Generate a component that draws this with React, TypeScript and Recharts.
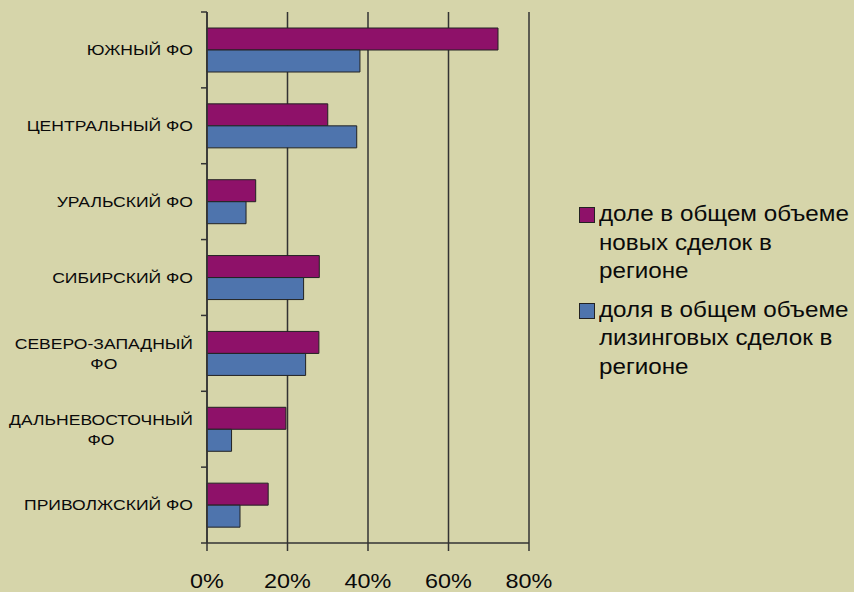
import { BarChart, Bar, XAxis, YAxis, CartesianGrid, Legend } from 'recharts'

// federal districts, top to bottom
const regions = [
  'ЮЖНЫЙ ФО',
  'ЦЕНТРАЛЬНЫЙ ФО',
  'УРАЛЬСКИЙ ФО',
  'СИБИРСКИЙ ФО',
  'СЕВЕРО-ЗАПАДНЫЙ\nФО',
  'ДАЛЬНЕВОСТОЧНЫЙ\nФО',
  'ПРИВОЛЖСКИЙ ФО',
]
const newDealsShare = [72.3, 30, 12.1, 27.9, 27.8, 19.6, 15.2]
const leasingShare = [38, 37.2, 9.7, 24, 24.5, 6.1, 8.2]
const xTicks = [0, 20, 40, 60, 80]

const seriesNames = [
  'доле в общем объеме\nновых сделок в\nрегионе',
  'доля в общем объеме\nлизинговых сделок в\nрегионе',
]
const seriesColors = ['#8e1169', '#4e74ad']

const rows = regions.map((r, i) => ({ region: r, a: newDealsShare[i], b: leasingShare[i] }))

const FONT = '"Liberation Sans", Arial, sans-serif'
const STRETCH = 1.17
const BG = '#d6d5aa'
const INK = '#0a0a0a'
const AXIS = '#333'

let ctx: CanvasRenderingContext2D | null = null
function textWidth(s: string, size: number) {
  if (!ctx) ctx = document.createElement('canvas').getContext('2d')
  if (!ctx) return s.length * size * 0.7
  ctx.font = `${size}px ${FONT}`
  return ctx.measureText(s).width
}

// category label + the small separator ticks that sit between categories
function RegionTick(props: any) {
  const { x, y, payload, index } = props
  const size = 15
  const lines = String(payload.value).split('\n')
  const w = Math.max(...lines.map(l => textWidth(l, size)))
  const axisX = x + 14
  const half = payload.offset || 0
  return (
    <g>
      <line x1={axisX - 6} x2={axisX} y1={y - half} y2={y - half} stroke={AXIS} strokeWidth={1.5} />
      {index === regions.length - 1 && (
        <line x1={axisX - 6} x2={axisX} y1={y + half} y2={y + half} stroke={AXIS} strokeWidth={1.5} />
      )}
      <g transform={`translate(${x},${y}) scale(${STRETCH},1)`}>
        {lines.map((l, i) => (
          <text key={i} x={-w / 2} y={(i - (lines.length - 1) / 2) * 20} dy="0.36em"
            textAnchor="middle" fontFamily={FONT} fontSize={size} fill={INK}>{l}</text>
        ))}
      </g>
    </g>
  )
}

function PctTick(props: any) {
  const { x, y, payload } = props
  return (
    <g transform={`translate(${x},${y}) scale(${STRETCH},1)`}>
      <text x={0} y={35} textAnchor="middle" fontFamily={FONT} fontSize={20} fill={INK}>
        {payload.value}%
      </text>
    </g>
  )
}

function LegendBox() {
  return (
    <div style={{ fontFamily: FONT, fontSize: 22, color: INK }}>
      {seriesNames.map((n, i) => (
        <div key={i} style={{ display: 'flex', alignItems: 'flex-start', marginBottom: 10 }}>
          <span style={{ width: 14, height: 14, background: seriesColors[i], border: '1px solid #222',
            marginTop: 7, marginRight: 4, flex: 'none' }} />
          <span style={{ whiteSpace: 'pre', lineHeight: '28.5px', display: 'inline-block',
            transform: 'scaleX(1.1)', transformOrigin: 'left top' }}>{n}</span>
        </div>
      ))}
    </div>
  )
}

export default function App() {
  return (
    <div style={{ position: 'fixed', left: 0, top: 0, width: 854, height: 592, background: BG }}>
      <BarChart width={854} height={592} data={rows} layout="vertical"
        margin={{ top: 12, right: 325, left: 0, bottom: 0 }} barSize={22} barGap={0}>
        <CartesianGrid horizontal={false} stroke={AXIS} strokeWidth={1.5} />
        <YAxis dataKey="region" type="category" width={207} tickLine={false} tickSize={6}
          tickMargin={8} tick={<RegionTick />} stroke={AXIS} strokeWidth={1.5} interval={0} />
        <XAxis type="number" domain={[0, 80]} ticks={xTicks} height={49} tickSize={8}
          tick={<PctTick />} stroke={AXIS} strokeWidth={1.5} />
        <Legend layout="vertical" align="center" verticalAlign="middle" content={<LegendBox />}
          wrapperStyle={{ position: 'absolute', left: 579, top: 200, width: 275 }} />
        <Bar dataKey="a" name={seriesNames[0]} fill={seriesColors[0]} stroke="#222" strokeWidth={1}
          isAnimationActive={false} />
        <Bar dataKey="b" name={seriesNames[1]} fill={seriesColors[1]} stroke="#222" strokeWidth={1}
          isAnimationActive={false} />
      </BarChart>
    </div>
  )
}
